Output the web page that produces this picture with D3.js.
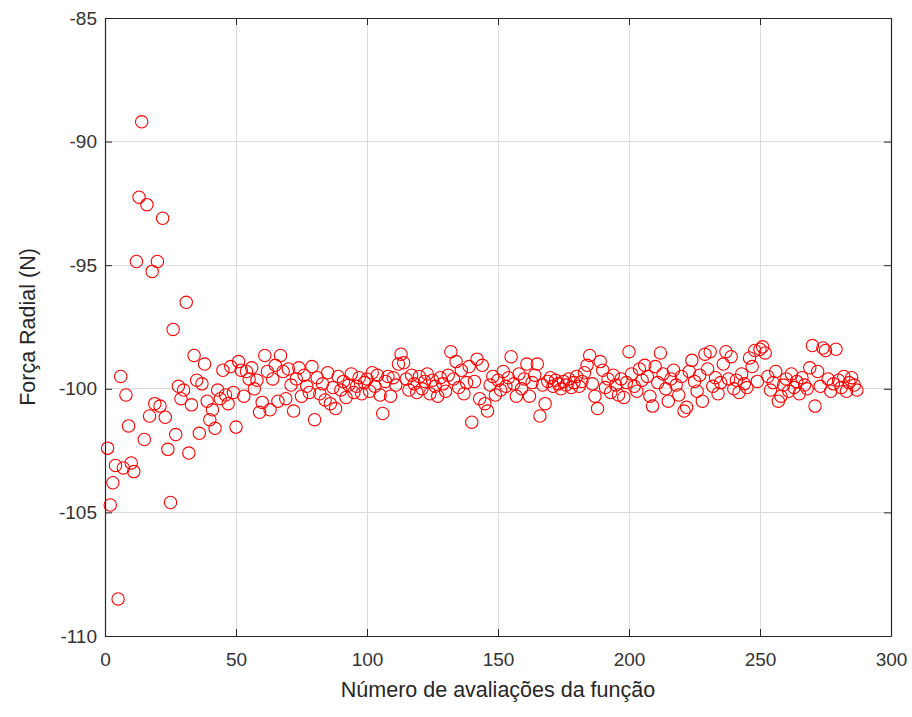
<!DOCTYPE html>
<html>
<head>
<meta charset="utf-8">
<script src="https://cdn.jsdelivr.net/npm/d3@7"></script>
<style>
  html, body { margin: 0; padding: 0; background: #ffffff; }
  svg { display: block; }
  text { font-family: "Liberation Sans", Arial, Helvetica, sans-serif; }
</style>
</head>
<body>
<svg id="chart" width="912" height="717"></svg>
<script>
// ---- data ----
const forceEarly = [
  -102.4, -104.7, -103.8, -103.1, -108.5, -99.5, -103.2, -100.25, -101.5, -103.0,
  -103.35, -94.85, -92.25, -89.2, -102.05, -92.55, -101.1, -95.25, -100.6, -94.85,
  -100.7, -93.1, -101.15, -102.45, -104.6, -97.6, -101.85, -99.9, -100.4, -100.05,
  -96.5, -102.6, -100.65, -98.65, -99.65, -101.8, -99.8, -99.0, -100.5, -101.25,
  -100.85, -101.6, -100.05, -100.4, -99.25, -100.25, -100.6, -99.1, -100.15, -101.55,
  -98.9, -99.25, -100.3, -99.3, -99.6, -99.15, -100.0, -99.65, -100.95
];
const forceLate = [
  -100.55, -98.65, -99.3, -100.85, -99.6, -99.05, -100.5, -98.65, -99.3, -100.4,
  -99.2, -99.85, -100.9, -99.6, -99.15, -100.3, -99.45, -99.9, -100.15, -99.1,
  -101.25, -99.55, -100.2, -99.8, -100.45, -99.35, -100.6, -99.95, -100.8, -99.5,
  -100.05, -99.7, -100.35, -99.85, -99.4, -100.15, -99.9, -99.55, -100.2, -99.75,
  -99.6, -100.1, -99.35, -99.9, -99.45, -100.25, -101.0, -99.7, -99.5, -100.3,
  -99.55, -99.85, -99.0, -98.6, -98.95, -99.6, -100.05, -99.45, -99.8, -100.15,
  -99.5, -100.0, -99.7, -99.4, -100.2, -99.65, -99.9, -100.3, -99.55, -99.8,
  -100.1, -99.45, -98.5, -99.6, -98.9, -99.95, -99.25, -100.2, -99.75, -99.1,
  -101.35, -99.7, -98.8, -100.4, -99.05, -100.6, -100.9, -99.85, -99.5, -100.25,
  -99.65, -100.05, -99.3, -99.9, -99.55, -98.7, -99.8, -100.3, -99.4, -100.0,
  -99.6, -99.0, -100.3, -99.75, -99.45, -99.0, -101.1, -99.85, -100.6, -99.7,
  -99.55, -99.9, -99.65, -99.8, -100.0, -99.7, -99.85, -99.6, -99.95, -99.75,
  -99.5, -99.9, -99.7, -99.35, -99.05, -98.65, -99.8, -100.3, -100.8, -98.9,
  -99.25, -99.95, -99.6, -100.15, -99.45, -99.85, -100.25, -99.6, -100.35, -99.75,
  -98.5, -99.4, -99.9, -100.1, -99.2, -99.65, -99.05, -99.5, -100.3, -100.7,
  -99.1, -99.75, -98.55, -99.4, -100.0, -100.5, -99.6, -99.25, -99.85, -100.25,
  -99.5, -100.9, -100.75, -99.3, -98.85, -99.7, -100.1, -99.45, -100.5, -98.6,
  -99.2, -98.5, -99.9, -99.55, -100.2, -99.75, -99.0, -98.5, -99.6, -98.7,
  -100.0, -99.65, -100.15, -99.4, -99.8, -99.95, -98.75, -99.1, -98.45, -99.7,
  -98.4, -98.3, -98.55, -99.5, -100.05, -99.75, -99.3, -100.5, -100.3, -99.85,
  -99.6, -100.1, -99.4, -99.95, -99.7, -100.2, -99.55, -99.85, -100.0, -99.15,
  -98.25, -100.7, -99.3, -99.9, -98.35, -98.45, -99.6, -100.1, -99.8, -98.4,
  -99.65, -99.95, -99.5, -100.1, -99.75, -99.55, -99.85, -100.05
];
const xTicks = [0, 50, 100, 150, 200, 250, 300];
const yTicks = [-110, -105, -100, -95, -90, -85];
const xLabel = "Número de avaliações da função";
const yLabel = "Força Radial (N)";

(function () {
const force = forceEarly.concat(forceLate);
const points = force.map((v, i) => ({ n: i + 1, f: v }));

// ---- layout ----
const mL = 105, mR = 891, mT = 18, mB = 636;
const svg = d3.select("#chart");
const x = d3.scaleLinear().domain([0, 300]).range([mL, mR]);
const y = d3.scaleLinear().domain([-110, -85]).range([mB, mT]);

const axisColor = "#262626";
const gridColor = "#dcdcdc";

// grid
const g = svg.append("g");
g.selectAll("line.gx").data(xTicks.slice(1, -1)).enter().append("line")
  .attr("x1", d => x(d)).attr("x2", d => x(d))
  .attr("y1", mT).attr("y2", mB)
  .attr("stroke", gridColor).attr("stroke-width", 1).attr("shape-rendering", "crispEdges");
g.selectAll("line.gy").data(yTicks.slice(1, -1)).enter().append("line")
  .attr("x1", mL).attr("x2", mR)
  .attr("y1", d => y(d)).attr("y2", d => y(d))
  .attr("stroke", gridColor).attr("stroke-width", 1).attr("shape-rendering", "crispEdges");

// points
svg.append("g").selectAll("circle").data(points).enter().append("circle")
  .attr("cx", d => x(d.n)).attr("cy", d => y(d.f))
  .attr("r", 6.2)
  .attr("fill", "none")
  .attr("stroke", "#ff0000")
  .attr("stroke-width", 1.1);

// axes (inward ticks, box)
const fs = 19;
const fmt = d => String(d);
const xAxis = d3.axisBottom(x).tickValues(xTicks).tickFormat(fmt).tickSizeInner(-7).tickSizeOuter(0).tickPadding(17);
const yAxis = d3.axisLeft(y).tickValues(yTicks).tickFormat(fmt).tickSizeInner(-7).tickSizeOuter(0).tickPadding(8);
const xTop = d3.axisTop(x).tickValues(xTicks).tickSizeInner(-7).tickSizeOuter(0).tickFormat("");
const yRight = d3.axisRight(y).tickValues(yTicks).tickSizeInner(-7).tickSizeOuter(0).tickFormat("");

function style(sel) {
  sel.selectAll("path").attr("stroke", axisColor).attr("stroke-width", 1.2);
  sel.selectAll("line").attr("stroke", axisColor).attr("stroke-width", 1);
  sel.selectAll("text").attr("fill", "#333333").style("font-size", fs + "px")
    .style("font-family", "'Liberation Sans', Arial, sans-serif");
}
svg.append("g").attr("transform", `translate(0,${mB})`).call(xAxis).call(style);
svg.append("g").attr("transform", `translate(${mL},0)`).call(yAxis).call(style);
svg.append("g").attr("transform", `translate(0,${mT})`).call(xTop).call(style);
svg.append("g").attr("transform", `translate(${mR},0)`).call(yRight).call(style);

// labels
svg.append("text")
  .attr("x", (mL + mR) / 2).attr("y", 697)
  .attr("text-anchor", "middle")
  .attr("fill", "#262626").style("font-size", "21.5px")
  .text(xLabel);
svg.append("text")
  .attr("transform", `translate(35,${(mT + mB) / 2}) rotate(-90)`)
  .attr("text-anchor", "middle")
  .attr("fill", "#262626").style("font-size", "21.5px")
  .text(yLabel);
})();
</script>
</body>
</html>
